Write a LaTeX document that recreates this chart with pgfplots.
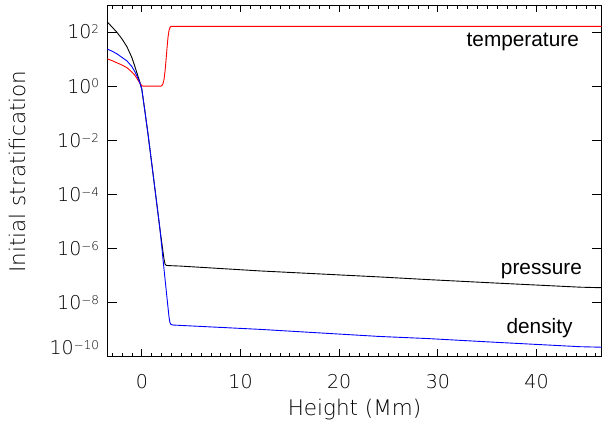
\documentclass[border=0pt]{standalone}
\usepackage{fontspec}
\setmainfont{DejaVu Sans ExtraLight}
\newfontfamily\helv{Liberation Sans}
\usepackage{pgfplots}
\pgfplotsset{compat=1.18}
\newcommand\pw[1]{\hbox{\fontsize{19bp}{19bp}\selectfont 10\raisebox{5.1bp}{\fontsize{12bp}{12bp}\selectfont #1}}}
\newcommand\xl[1]{\hbox{\fontsize{19bp}{19bp}\selectfont #1}}
\begin{document}
\begin{tikzpicture}
\useasboundingbox (-107.3bp,-71.3bp) rectangle (494.7bp,356.7bp);
\begin{axis}[
  at={(0,0)}, anchor=south west,
  scale only axis, width=494.4bp, height=351.7bp,
  ymode=log, xmin=-3.5, xmax=46.6, ymin=1e-10, ymax=1e3,
  axis line style={line width=0.8bp},
  every tick/.style={black, line width=0.8bp},
  major tick length=7.5bp, minor tick length=4bp,
  xtick={0,10,20,30,40},
  xticklabels={\xl{0},\xl{10},\xl{20},\xl{30},\xl{40}},
  minor xtick={-3,-2,...,46},
  ytick=\empty,
  minor ytick={1e-9,1e-7,1e-5,1e-3,1e-1,1e1},
  extra y ticks={1e-10,1e-8,1e-6,1e-4,1e-2,1,1e2},
  extra y tick labels={\raisebox{9bp}{\pw{−10}},\pw{−8},\pw{−6},\pw{−4},\pw{−2},\pw{0},\pw{2}},
  extra y tick style={major tick length=10bp},
  xticklabel style={anchor=base, inner sep=0pt, yshift=-31.6bp},
  yticklabel style={anchor=base east, inner sep=0pt, xshift=-8bp, yshift=-6.9bp},
  xlabel={Height (Mm)},
  ylabel={Initial stratification},
  xlabel style={at={(axis description cs:0.5,-0.1686)}, anchor=base, inner sep=0pt, font=\fontsize{21.5bp}{21.5bp}\selectfont},
  ylabel style={at={(axis description cs:-0.1816,0.5266)}, anchor=center, inner sep=0pt, font=\fontsize{21.5bp}{21.5bp}\selectfont},
]
% pressure
\addplot[black, line width=0.9bp] coordinates {
(-3.5,234.4)(-3.0,151.4)(-2.5,95.5)(-2.0,54.95)(-1.5,28.18)(-1.0,11.22)(-0.7,5.248)(-0.4,2.399)(-0.2,1.413)(0,0.7586)(0.3,0.1259)(0.6,0.01995)(1.0,1.413e-3)(1.5,5.012e-5)(1.84,5.012e-6)(2.1,1.0e-6)(2.25,3.981e-7)(2.35,2.692e-7)(2.45,2.399e-7)(2.6,2.344e-7)(3.9,2.239e-7)(12,1.479e-7)(24,8.913e-8)(29,7.079e-8)(36,5.248e-8)(44.4,3.715e-8)(46.6,3.548e-8)
};
% temperature
\addplot[red, line width=0.9bp] coordinates {
(-3.5,10.23)(-3.0,8.71)(-2.5,7.244)(-2.0,6.026)(-1.5,4.786)(-1.0,3.311)(-0.7,2.512)(-0.4,1.698)(-0.2,1.288)(0,1.047)(0.15,1)(1.95,1)(2.05,1.072)(2.15,1.259)(2.25,1.778)(2.35,3.548)(2.45,8.913)(2.55,25.12)(2.65,63.1)(2.75,112.2)(2.85,147.9)(2.95,162.2)(46.6,162.2)
};
% density
\addplot[blue, line width=0.9bp] coordinates {
(-3.5,23.44)(-3.0,19.5)(-2.5,15.49)(-2.0,11.48)(-1.5,8.511)(-1.0,5.248)(-0.7,3.388)(-0.4,1.995)(-0.2,1.318)(0,0.7586)(0.3,0.1259)(0.6,0.01995)(1.0,1.413e-3)(1.5,5.012e-5)(1.84,5.012e-6)(2.0,1.349e-6)(2.2,2.512e-7)(2.4,5.012e-8)(2.6,1.0e-8)(2.75,3.02e-9)(2.85,1.82e-9)(2.95,1.549e-9)(3.2,1.479e-9)(12,1.023e-9)(24,5.623e-10)(29,4.677e-10)(36,3.388e-10)(44.4,2.344e-10)(46.6,2.239e-10)
};
\node[anchor=base, inner sep=0pt, font=\helv\fontsize{20.8bp}{24bp}\selectfont] at (axis cs:38.6,28.3) {temperature};
\node[anchor=base, inner sep=0pt, font=\helv\fontsize{20.8bp}{24bp}\selectfont] at (axis cs:40.49,1.117e-7) {pressure};
\node[anchor=base, inner sep=0pt, font=\helv\fontsize{20.8bp}{24bp}\selectfont] at (axis cs:40.3,7.3e-10) {density};
\end{axis}
\end{tikzpicture}
\end{document}
